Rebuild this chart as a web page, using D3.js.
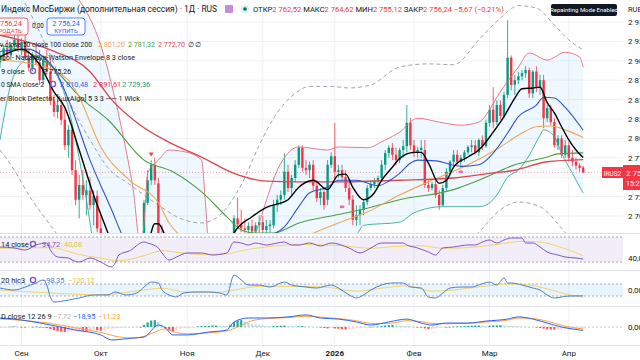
<!DOCTYPE html>
<html><head><meta charset="utf-8">
<script src="https://cdn.jsdelivr.net/npm/d3@7"></script>
<style>body{margin:0;background:#fff;overflow:hidden}svg{display:block;font-family:Roboto,"Noto Sans",sans-serif}</style>
</head><body><svg id="c" width="640" height="360"></svg>
<script>
// ---------- DATA ----------
// daily candles [open, high, low, close]
const candles = [
[2898,2911,2891,2906],[2906,2920,2901,2916],[2916,2927,2904,2907],[2907,2924,2901,2920],[2920,2933,2914,2927],
[2927,2940,2911,2916],[2916,2929,2907,2924],[2924,2933,2901,2904],[2904,2914,2886,2891],[2891,2911,2886,2907],
[2907,2920,2895,2898],[2898,2914,2869,2875],[2875,2907,2869,2901],[2901,2914,2882,2886],[2886,2901,2843,2849],
[2849,2856,2828,2834],[2834,2849,2826,2843],[2843,2852,2817,2824],[2824,2837,2785,2791],[2791,2817,2775,2811],
[2811,2817,2753,2759],[2759,2772,2714,2721],[2721,2753,2697,2740],[2740,2759,2721,2727],[2727,2746,2701,2733],
[2733,2750,2708,2714],[2714,2733,2688,2726],[2726,2733,2679,2684],[2684,2701,2643,2649],[2649,2669,2617,2630],
[2630,2646,2605,2611],[2611,2630,2592,2617],[2617,2633,2585,2592],[2592,2607,2585,2602],[2602,2617,2592,2607],
[2607,2624,2594,2615],[2615,2628,2602,2611],[2611,2630,2605,2622],[2622,2637,2611,2630],[2630,2646,2622,2640],
[2640,2721,2633,2717],[2717,2759,2714,2746],[2746,2772,2740,2766],[2766,2775,2740,2746],[2742,2749,2663,2669],
[2669,2688,2637,2649],[2649,2669,2630,2640],[2640,2656,2617,2624],[2624,2640,2611,2633],[2633,2649,2617,2624],
[2624,2643,2605,2615],[2615,2630,2605,2628],[2628,2640,2611,2617],[2617,2633,2602,2611],[2611,2630,2598,2622],
[2622,2637,2607,2615],[2615,2630,2602,2625],[2625,2640,2615,2633],[2633,2646,2617,2622],[2622,2640,2611,2630],
[2630,2646,2620,2640],[2640,2653,2624,2633],[2633,2649,2625,2646],[2646,2663,2637,2656],[2656,2669,2646,2663],
[2663,2701,2658,2697],[2697,2724,2684,2689],[2689,2708,2679,2684],[2684,2697,2675,2682],[2682,2692,2674,2687],
[2687,2695,2677,2680],[2680,2692,2674,2688],[2688,2701,2679,2692],[2692,2700,2678,2682],[2682,2695,2674,2687],
[2687,2695,2679,2689],[2688,2721,2684,2714],[2714,2727,2705,2721],[2721,2733,2714,2727],[2727,2781,2721,2757],
[2757,2766,2731,2736],[2736,2753,2727,2749],[2749,2772,2744,2766],[2766,2791,2762,2788],[2788,2791,2757,2762],
[2762,2772,2753,2759],[2759,2770,2749,2766],[2766,2772,2733,2739],[2739,2746,2718,2723],[2723,2736,2714,2731],
[2731,2733,2708,2714],[2721,2772,2714,2766],[2766,2782,2762,2777],[2777,2820,2746,2757],[2757,2766,2749,2759],
[2759,2766,2746,2750],[2750,2759,2731,2736],[2736,2744,2714,2721],[2721,2727,2688,2695],[2695,2714,2687,2701],
[2701,2714,2688,2708],[2708,2721,2701,2718],[2718,2740,2714,2736],[2736,2746,2733,2741],[2741,2749,2736,2745],
[2745,2752,2740,2749],[2749,2772,2744,2766],[2766,2785,2759,2781],[2781,2791,2775,2788],[2788,2794,2772,2779],
[2779,2788,2766,2772],[2772,2788,2768,2785],[2785,2798,2775,2790],[2790,2843,2782,2820],[2820,2826,2785,2791],
[2791,2798,2776,2782],[2782,2789,2775,2785],[2785,2798,2775,2788],[2785,2798,2736,2740],[2740,2746,2731,2736],
[2736,2744,2733,2741],[2741,2746,2723,2727],[2727,2733,2708,2714],[2714,2740,2712,2736],[2736,2762,2731,2757],
[2757,2772,2753,2770],[2770,2785,2766,2779],[2779,2785,2766,2770],[2770,2779,2762,2775],[2775,2785,2770,2782],
[2782,2791,2779,2789],[2789,2798,2782,2791],[2791,2798,2779,2782],[2782,2800,2777,2798],[2798,2804,2785,2790],
[2790,2824,2788,2820],[2820,2843,2815,2837],[2837,2866,2813,2821],[2821,2849,2817,2843],[2843,2849,2824,2829],
[2829,2860,2826,2856],[2856,2952,2852,2904],[2904,2907,2862,2869],[2869,2882,2856,2875],[2875,2886,2870,2880],
[2880,2888,2875,2884],[2884,2893,2878,2888],[2888,2891,2852,2858],[2858,2888,2852,2886],[2886,2893,2860,2865],
[2865,2882,2856,2875],[2875,2882,2813,2826],[2826,2843,2821,2839],[2839,2843,2817,2821],[2821,2826,2788,2791],
[2791,2804,2785,2800],[2800,2804,2775,2779],[2779,2798,2775,2791],[2791,2795,2770,2775],[2775,2785,2764,2770],
[2770,2775,2760,2765],[2765,2768,2757,2762],[2762.52,2764.62,2755.12,2756.24]
];
const lastClose = 2756.24;
// month labels: [candle index, label]
const monthTicks = [[6,"Сен"],[28,"Окт"],[52,"Ноя"],[73,"Дек"],[93,"2026"],[115,"Фев"],[136,"Мар"],[158,"Апр"]];
const priceTicks = [2700,2725,2775,2800,2825,2850,2875,2900,2925,2950];
// overlay lines as [candle index, value]
const ema9 = [[0,2905],[6,2915],[11,2895],[15,2860],[18,2840],[22,2785],[26,2727],[30,2678],[33,2640],[37,2612],[40,2635],[43,2690],[44,2690],[46,2674],[50,2645],[55,2625],[60,2632],[63,2650],[65,2678],[70,2699],[74,2711],[80,2721],[83,2737],[87,2746],[91,2734],[94,2753],[96,2754],[98,2737],[101,2721],[104,2730],[106,2746],[109,2763],[111,2774],[115,2782],[117,2782],[119,2768],[122,2742],[124,2746],[126,2763],[130,2776],[133,2785],[137,2808],[140,2828],[143,2852],[145,2864],[148,2865],[150,2866],[152,2846],[154,2833],[156,2815],[158,2798],[160,2785],[162,2775.26]];
const bbBasis = [[0,2912],[8,2915],[12,2905],[15,2890],[19,2850],[25,2772],[31,2708],[34,2675],[40,2640],[50,2625],[60,2630],[68,2655],[72,2669],[79,2686],[83,2712],[86,2730],[91,2737],[94,2746],[99,2746],[105,2739],[108,2745],[111,2755],[114,2768],[116,2772],[121,2771],[128,2764],[133,2766],[137,2781],[141,2807],[144,2828],[149,2843],[151,2853],[154,2852],[157,2840],[162,2810.48]];
const bbUpper = [[0,3030],[10,3020],[18,2998],[22,2978],[28,2920],[32,2850],[35,2785],[37,2734],[39,2663],[40,2690],[41,2755],[44,2772],[47,2785],[52,2782],[56,2772],[57,2721],[58,2663],[62,2640],[68,2640],[71,2678],[78,2768],[83,2789],[91,2785],[94,2789],[102,2788],[107,2798],[111,2808],[116,2826],[122,2821],[128,2817],[133,2821],[136,2837],[138,2853],[144,2892],[147,2910],[152,2901],[157,2911],[161,2905],[162,2891.61]];
const bbLower = [[0,2798],[3,2869],[7,2901],[11,2907],[15,2888],[18,2856],[21,2798],[24,2721],[26,2663],[30,2600],[40,2560],[50,2570],[60,2590],[70,2600],[80,2620],[90,2650],[99,2675],[101,2688],[111,2692],[115,2704],[123,2712],[133,2712],[135,2714],[138,2727],[141,2750],[144,2759],[147,2778],[150,2804],[151,2811],[154,2802],[156,2781],[159,2755],[162,2729.36]];
const sma50 = [[0,2901],[11,2894],[19,2875],[22,2853],[28,2789],[36,2746],[44,2717],[47,2691],[50,2675],[60,2655],[70,2645],[80,2655],[86,2675],[94,2691],[102,2705],[111,2727],[120,2746],[130,2766],[139,2789],[144,2804],[149,2815],[153,2816],[157,2811],[162,2801.20]];
const sma100 = [[0,2920],[14,2894],[23,2850],[30,2824],[40,2772],[48,2757],[56,2731],[63,2699],[67,2682],[71,2678],[76,2678],[83,2691],[93,2701],[102,2710],[111,2721],[126,2734],[133,2746],[143,2766],[152,2776],[155,2780],[162,2781.32]];
const sma200 = [[0,2933],[14,2914],[25,2886],[31,2850],[39,2817],[47,2795],[56,2776],[65,2755],[74,2745],[83,2744],[93,2744],[111,2746],[126,2749],[136,2755],[143,2759],[152,2770],[162,2772.70]];
const nwUpper = [[0,3029],[8,2965],[14,2907],[19,2850],[25,2798],[31,2757],[35,2744],[44,2714],[50,2697],[56,2691],[61,2701],[67,2740],[72,2791],[76,2826],[82,2858],[86,2867],[92,2867],[97,2865],[103,2869],[111,2892],[119,2896],[126,2895],[133,2927],[139,2955],[144,2971],[149,2968],[154,2946],[158,2927],[162,2914]];
const nwLower = [[0,2785],[4,2759],[8,2727],[14,2688],[17,2669],[25,2600],[35,2560],[45,2470],[56,2447],[67,2490],[76,2580],[86,2620],[97,2618],[111,2640],[126,2648],[133,2679],[139,2708],[144,2718],[150,2712],[157,2679],[162,2655]];
const obMarkers = [[95,2712],[128,2757]];
const bearSignal = [[42,2778]];
// RSI 14
const rsi = [[0,54],[4,52.4],[7,49.2],[10,57.2],[13,60.4],[14,49.2],[16,38],[19,36.4],[20,33.2],[22,30],[25,36.4],[28,30],[31,22],[32,28.4],[33,41.2],[36,48],[40,62],[41,60.4],[44,52.4],[45,44.4],[47,33.2],[49,38],[52,44.4],[56,44.4],[59,41.2],[63,44.4],[65,62],[67,60.4],[69,57.2],[71,60.4],[74,57.2],[77,60.4],[79,62],[81,57.2],[83,57.2],[86,60.4],[89,55.6],[92,60.4],[97,52.4],[100,44.4],[103,52.4],[106,60.4],[108,60.4],[112,60.4],[113,57.2],[116,52.4],[119,46],[121,41.2],[123,52.4],[126,54],[130,57.2],[132,57.2],[134,62],[136,65.2],[138,60.4],[140,65.2],[142,68.4],[145,68.4],[146,60.4],[148,60.4],[150,54],[152,46],[155,41.2],[157,38],[160,36.4],[162,34.72]];
const rsiMa = [[0,52],[14,53],[22,42],[28,36],[33,32],[40,40],[45,48],[50,45],[56,42],[63,43],[67,48],[75,55],[85,58],[95,56],[103,52],[110,55],[117,56],[123,52],[130,53],[138,58],[145,63],[150,62],[155,55],[160,45],[162,40.08]];
// CCI 20
const cci = [[0,33],[4,0],[7,50],[10,117],[12,167],[13,83],[14,-117],[15,-200],[19,-167],[22,-133],[26,-83],[30,-83],[32,-33],[35,-83],[38,-50],[40,50],[42,133],[44,117],[45,0],[47,-83],[49,-117],[51,-50],[54,-33],[58,-33],[61,-50],[63,-83],[65,250],[67,167],[69,83],[72,83],[75,50],[79,133],[81,83],[85,50],[88,33],[92,83],[94,33],[97,-83],[99,-133],[101,-83],[103,0],[106,83],[109,117],[112,117],[114,50],[117,33],[119,-117],[121,-133],[123,-50],[125,33],[128,50],[131,50],[133,83],[136,133],[138,83],[140,200],[141,117],[142,117],[145,83],[148,33],[150,0],[152,-83],[154,-133],[156,-117],[158,-100],[162,-98.35]];
const cciMa = [[0,0],[14,-50],[28,-80],[40,0],[45,30],[52,-40],[60,-40],[65,0],[72,60],[80,60],[90,50],[99,-20],[106,30],[113,70],[120,-20],[126,0],[133,50],[141,100],[146,90],[152,20],[158,-80],[162,-120.12]];
// MACD 12 26 9
const macd = [[0,50],[6,39],[14,11],[21,-17],[28,-44],[31,-72],[37,-61],[40,-56],[44,11],[46,-6],[48,-44],[52,-44],[58,-28],[63,-17],[65,28],[69,50],[74,50],[80,56],[85,67],[89,50],[94,44],[99,28],[103,11],[108,28],[113,44],[117,22],[120,11],[124,22],[130,22],[135,33],[141,44],[144,56],[148,44],[152,22],[156,0],[159,-11],[162,-18.95]];
const macdSignal = [[0,45],[14,20],[21,-5],[28,-30],[33,-55],[37,-62],[41,-45],[44,-20],[46,-10],[48,-25],[52,-38],[58,-32],[63,-22],[66,0],[70,35],[75,48],[80,52],[85,60],[89,55],[94,47],[99,35],[103,20],[108,20],[113,35],[117,30],[120,20],[124,18],[130,20],[135,28],[141,38],[144,50],[148,47],[152,32],[156,10],[159,-3],[162,-11.23]];
const macdHist = [-5,-4,-3,2,3,2,-2,-3,-2,1,2,-1,-3,-6,-12,-18,-22,-26,-28,-25,-22,-20,-18,-22,-25,-20,-15,-18,-20,-15,-12,-10,-8,-6,-5,-4,-3,-2,-1,0,12,25,36,38,28,12,-8,-18,-26,-20,-10,-6,-5,-4,-3,3,5,6,6,8,8,7,6,5,12,28,36,38,30,22,16,12,10,8,6,5,5,6,7,8,6,5,4,4,5,4,3,2,1,-3,-5,-8,-6,-8,-10,-12,-14,-12,-10,-8,-6,-3,-1,1,0,2,5,8,10,12,10,8,6,4,2,0,-1,-4,-8,-12,-10,-8,-5,-2,0,1,2,3,4,5,6,7,8,8,7,6,7,8,9,10,9,8,7,6,4,3,2,1,0,-3,-6,-9,-12,-14,-15,-14,-13,-12,-11,-10,-9,-8,-7.72];

// ---------- DRAW ----------
const svg = d3.select("#c");
const PR = 623; // plot right edge
const x = d3.scaleLinear().domain([0,162]).range([0,583.2]);
const y = d3.scaleLinear().domain([2700,2950]).range([216,22]);
const yR = d3.scaleLinear().domain([30,70]).range([262,237]);
const yC = d3.scaleLinear().domain([-100,100]).range([296,284]);
const yM = d3.scaleLinear().domain([-50,50]).range([336,318]);
const fmt = v => d3.format(",.2f")(v).replace(/,/g," ").replace(".",",");
const UP="#089981", DN="#F23645", TXT="#131722";

const defs = svg.append("defs");
[["cm",0,0,PR,233],["cr",0,234,PR,36],["cc",0,271,PR,35],["cmacd",0,307,PR,38]].forEach(([id,a,b,w,h])=>{
  defs.append("clipPath").attr("id",id).append("rect").attr("x",a).attr("y",b).attr("width",w).attr("height",h);
});

// grid
const grid = svg.append("g");
monthTicks.forEach(([i])=>grid.append("line").attr("x1",x(i)).attr("x2",x(i)).attr("y1",0).attr("y2",345).attr("stroke","#eef1f6"));
priceTicks.concat([2750]).forEach(p=>grid.append("line").attr("x1",0).attr("x2",PR).attr("y1",y(p)).attr("y2",y(p)).attr("stroke","#eef1f6"));
// pane separators
[233.5,270.5,306.5,345.5].forEach(v=>svg.append("line").attr("x1",0).attr("x2",640).attr("y1",v).attr("y2",v).attr("stroke","#e0e3eb"));

const main = svg.append("g").attr("clip-path","url(#cm)");
const mk = (ys)=>d3.line().x(d=>x(d[0])).y(d=>ys(d[1])).curve(d3.curveMonotoneX);
const lineP = mk(y);

// BB fill
const up = lineP(bbUpper), lo = lineP(bbLower.slice().reverse());
main.append("path").attr("d", up + "L" + lo.slice(1) + "Z").attr("fill","rgba(33,150,243,0.07)");

// NW envelope
[nwUpper,nwLower].forEach(s=>main.append("path").attr("d",lineP(s)).attr("fill","none").attr("stroke","#9fa3ad").attr("stroke-width",1).attr("stroke-dasharray","4,3"));

// current price line
main.append("line").attr("x1",0).attr("x2",PR).attr("y1",y(lastClose)).attr("y2",y(lastClose)).attr("stroke","#F23645").attr("stroke-opacity",0.45).attr("stroke-dasharray","1,2");

// candles
const cg = main.append("g");
candles.forEach((d,i)=>{
  const [o,h,l,c]=d, col = c>=o?UP:DN, cx=x(i);
  cg.append("line").attr("x1",cx).attr("x2",cx).attr("y1",y(h)).attr("y2",y(l)).attr("stroke",col).attr("stroke-width",0.8);
  const top=y(Math.max(o,c)), hh=Math.max(1,Math.abs(y(o)-y(c)));
  cg.append("rect").attr("x",cx-1.2).attr("y",top).attr("width",2.4).attr("height",hh).attr("fill",col);
});

// overlay lines
const L = (s,col,w,op)=>main.append("path").attr("d",lineP(s)).attr("fill","none").attr("stroke",col).attr("stroke-width",w).attr("stroke-opacity",op||1);
L(bbUpper,"#E0707C",1,0.9);
L(bbLower,"#3BAA98",1,0.9);
L(sma100,"#4E9F45",1.1);
L(sma50,"#F2A65A",1.1);
L(sma200,"#D94A50",1.4);
L(bbBasis,"#2E55C8",1.1);
L(ema9,"#000000",1.4);
obMarkers.forEach(([i,p])=>main.append("ellipse").attr("cx",x(i)).attr("cy",y(p)).attr("rx",2.5).attr("ry",1.5).attr("fill","#F06AA8"));
bearSignal.forEach(([i,p])=>main.append("path").attr("d",`M${x(i)-2.5},${y(p)-3}L${x(i)+2.5},${y(p)-3}L${x(i)},${y(p)+1}Z`).attr("fill","#E04A4A"));

// RSI pane
const rg = svg.append("g").attr("clip-path","url(#cr)");
rg.append("rect").attr("x",0).attr("y",yR(70)).attr("width",PR).attr("height",yR(30)-yR(70)).attr("fill","rgba(126,87,194,0.1)");
[70,30].forEach(v=>rg.append("line").attr("x1",0).attr("x2",PR).attr("y1",yR(v)).attr("y2",yR(v)).attr("stroke","#9598a1").attr("stroke-dasharray","2,2").attr("stroke-width",0.8));
rg.append("path").attr("d",mk(yR)(rsiMa)).attr("fill","none").attr("stroke","#F3D46B").attr("stroke-width",1);
rg.append("path").attr("d",mk(yR)(rsi)).attr("fill","none").attr("stroke","#7E57C2").attr("stroke-width",1);

// CCI pane
const ccg = svg.append("g").attr("clip-path","url(#cc)");
ccg.append("rect").attr("x",0).attr("y",yC(100)).attr("width",PR).attr("height",yC(-100)-yC(100)).attr("fill","rgba(33,150,243,0.1)");
[100,-100].forEach(v=>ccg.append("line").attr("x1",0).attr("x2",PR).attr("y1",yC(v)).attr("y2",yC(v)).attr("stroke","#9598a1").attr("stroke-dasharray","2,2").attr("stroke-width",0.8));
ccg.append("path").attr("d",mk(yC)(cciMa)).attr("fill","none").attr("stroke","#F3D46B").attr("stroke-width",1);
ccg.append("path").attr("d",mk(yC)(cci)).attr("fill","none").attr("stroke","#4C7FCC").attr("stroke-width",1);

// MACD pane
const mg = svg.append("g").attr("clip-path","url(#cmacd)");
mg.append("line").attr("x1",0).attr("x2",PR).attr("y1",yM(0)).attr("y2",yM(0)).attr("stroke","#b2b5be").attr("stroke-dasharray","2,2").attr("stroke-width",0.8);
macdHist.forEach((v,i)=>{
  const pv = i>0?macdHist[i-1]:v;
  const col = v>=0 ? (v>=pv?"#26A69A":"#B2DFDB") : (v<pv?"#FF5252":"#FFCDD2");
  const a=yM(0), b=yM(v);
  mg.append("rect").attr("x",x(i)-1.1).attr("y",Math.min(a,b)).attr("width",2.2).attr("height",Math.max(0.6,Math.abs(a-b))).attr("fill",col);
});
mg.append("path").attr("d",mk(yM)(macdSignal)).attr("fill","none").attr("stroke","#FF9F40").attr("stroke-width",1);
mg.append("path").attr("d",mk(yM)(macd)).attr("fill","none").attr("stroke","#2962FF").attr("stroke-width",1);

// ---------- TEXT ----------
const T = (s,xx,yy,col,size,opts={})=>{
  const t=svg.append("text").attr("x",xx).attr("y",yy).attr("fill",col||TXT).attr("font-size",size).text(s);
  if(opts.anchor) t.attr("text-anchor",opts.anchor);
  if(opts.weight) t.attr("font-weight",opts.weight);
  if(opts.len) t.attr("textLength",opts.len).attr("lengthAdjust","spacingAndGlyphs");
  return t;
};
// time axis
monthTicks.forEach(([i,l])=>T(l,x(i),355.5,TXT,8,{anchor:"middle",weight:l==="2026"?"bold":null}));
// price axis (labels run past the right edge, as in the original)
priceTicks.forEach(p=>T(fmt(p),628,y(p)+3,TXT,8));
T("RUB",628,12,TXT,7.5);
T("40,00",628,yR(40)+5,TXT,8);
T("0,00",628,yC(0)+3,TXT,8);
T("0,00",628,yM(0)+3,TXT,8);
// last price labels
svg.append("rect").attr("x",602).attr("y",167).attr("width",21).attr("height",11).attr("fill",DN);
T("IRUS2",612.5,175.5,"#fff",6.5,{anchor:"middle"});
svg.append("rect").attr("x",623).attr("y",165).attr("width",20).attr("height",25).attr("fill",DN);
T(fmt(lastClose),626,175.5,"#fff",8);
T("15:22:48",626,186,"#fff",7);

// header
T("Индекс МосБиржи (дополнительная сессия) · 1Д · RUS",1,12,TXT,9,{len:216});
svg.append("rect").attr("x",225).attr("y",5).attr("width",8).attr("height",8).attr("rx",1).attr("fill","#C98BD9");
svg.append("circle").attr("cx",245).attr("cy",9).attr("r",4).attr("fill","#d8efec");
svg.append("circle").attr("cx",245).attr("cy",9).attr("r",1.8).attr("fill","#0b6e5f");
const hdr = svg.append("text").attr("x",253).attr("y",11.5).attr("font-size",7.6);
[["ОТКР",TXT],["2 762,52",DN],[" МАКС",TXT],["2 764,62",DN],[" МИН",TXT],["2 755,12",DN],[" ЗАКР",TXT],["2 756,24",DN],[" −5,67 (−0,21%)",DN]]
 .forEach(([s,c])=>hdr.append("tspan").attr("fill",c).text(s));
// buy/sell boxes
svg.append("rect").attr("x",-12).attr("y",18).attr("width",40).attr("height",17).attr("rx",3).attr("fill","#fff").attr("stroke",DN).attr("stroke-width",0.8);
T("2 756,24",8,25.5,DN,7.2,{anchor:"middle"});
T("ПРОДАТЬ",8,32.8,DN,6,{anchor:"middle"});
T("0,00",32,27.5,TXT,6.3);
svg.append("rect").attr("x",47).attr("y",18).attr("width",38).attr("height",17).attr("rx",3).attr("fill","#fff").attr("stroke","#2962FF").attr("stroke-width",0.8);
T("2 756,24",66,25.5,"#2962FF",7.2,{anchor:"middle"});
T("КУПИТЬ",66,32.8,"#2962FF",6,{anchor:"middle"});
// Repainting box
svg.append("rect").attr("x",551).attr("y",4).attr("width",66).attr("height",12).attr("rx",2).attr("fill","#131722");
T("Repainting Mode Enabled",584,12.3,"#fff",6,{anchor:"middle"});
// legends
const icon=(cx,cy)=>svg.append("circle").attr("cx",cx).attr("cy",cy).attr("r",2.6).attr("fill","none").attr("stroke","#7E57C2").attr("stroke-width",1.4);
T("v close 50 close 100 close 200",0,46.5,TXT,7.2,{len:92});
T("2 801,20",98,46.5,"#F2A65A",7.2,{len:27}); T("2 781,32",128,46.5,"#4E9F45",7.2,{len:27}); T("2 772,70",158,46.5,"#D94A50",7.2,{len:27});
T("∅",188,46.5,TXT,7.2); T("∅",195,46.5,TXT,7.2);
T("lgo - Nadaraya-Watson Envelope 8 3 close",0,59.5,TXT,7.4,{len:135});
T("9 close",1,73.5,TXT,7.4); icon(33,71); T("2 775,26",43,73.5,TXT,7.4);
T("0 SMA close 2",1,86.5,TXT,7.4,{len:43}); icon(53,84); T("2 810,48",60,86.5,"#2962FF",7.4); T("2 891,61",93,86.5,DN,7.4); T("2 729,36",122,86.5,UP,7.4);
T("er Block Detector [LuxAlgo] 5 3 3 —— 1 Wick",0,100.5,TXT,7.4,{len:140});
T("14 close",1,246.5,TXT,7.4); icon(33,244); T("34,72",42,246.5,"#7E57C2",7.4); T("40,08",64,246.5,"#E6C23A",7.4);
T("20 hlc3",1,282.5,TXT,7.4); icon(33,280); T("−98,35",42,282.5,"#4C7FCC",7.4); T("−120,12",68,282.5,"#E6C23A",7.4);
T("D close 12 26 9",1,319,TXT,7.4); T("−7,72",53,319,"#c9b3b3",7.4); T("−18,95",73,319,"#2962FF",7.4); T("−11,23",98,319,"#FF9F40",7.4);
</script></body></html>
